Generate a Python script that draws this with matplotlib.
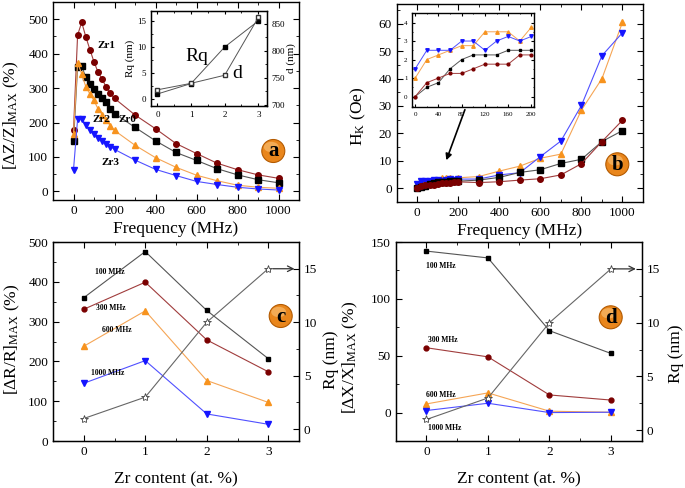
import matplotlib
matplotlib.use('Agg')
import matplotlib.pyplot as plt
from matplotlib.patches import Ellipse
from matplotlib.ticker import MultipleLocator

plt.rcParams['font.family'] = ['Liberation Serif', 'DejaVu Serif']
plt.rcParams['mathtext.fontset'] = 'custom'
plt.rcParams['mathtext.rm'] = 'Liberation Serif'
plt.rcParams['mathtext.it'] = 'Liberation Serif:italic'
plt.rcParams['mathtext.bf'] = 'Liberation Serif:bold'

# panel a: GMI ratio vs frequency
freq = [0, 20, 40, 60, 80, 100, 120, 140, 160, 180, 200, 300, 400, 500, 600, 700, 800, 900, 1000]
gmi_zr0 = [145, 362, 364, 331, 313, 296, 283, 272, 260, 239, 226, 186, 147, 113, 90, 66, 48, 34, 25]
gmi_zr1 = [179, 454, 491, 449, 412, 376, 346, 326, 302, 285, 270, 222, 182, 139, 110, 82, 63, 48, 38]
gmi_zr2 = [167, 374, 341, 304, 283, 264, 239, 223, 206, 191, 177, 134, 98, 70, 47, 31, 18, 12, 9]
gmi_zr3 = [63, 210, 211, 193, 177, 166, 155, 146, 138, 130, 122, 91, 64, 46, 29, 20, 12, 7, 4]

# panel b: anisotropy field vs frequency
hk_zr0 = [0, 0.5, 0.75, 1.5, 2, 2.25, 2.25, 2.25, 2.5, 2.5, 2.5, 2.9, 3.9, 5.7, 6.7, 9, 10.5, 17, 21]
hk_zr1 = [0, 0.75, 1, 1.25, 1.25, 1.5, 1.75, 1.75, 1.75, 2.25, 2.25, 2.0, 2.3, 2.9, 3.4, 4.8, 8.9, 17, 24.8]
hk_zr2 = [1, 2, 2.25, 2.5, 2.75, 2.75, 3.5, 3.5, 3.5, 3, 3.75, 4.2, 6.2, 8.0, 10.9, 12.4, 28.5, 40, 60.6]
hk_zr3 = [1.5, 2.5, 2.5, 2.5, 3, 3, 2.5, 3, 3.25, 3, 3.25, 3.3, 4.8, 5.6, 11.5, 17.2, 30.2, 48.4, 56.8]
n_low = 11  # points shown in the zoomed inset (0-200 MHz)

# inset a: roughness and thickness vs Zr content
zr = [0, 1, 2, 3]
rq = [1, 3, 10, 15]
thick = [728, 740, 755, 862]

# panel c: resistance ratio
dr_100 = [360, 476, 328, 207]
dr_300 = [331, 399, 254, 174]
dr_600 = [238, 327, 152, 97]
dr_1000 = [145, 202, 68, 42]

# panel d: reactance ratio
dx_100 = [142, 136, 72, 52]
dx_300 = [57, 49, 15.5, 11]
dx_600 = [7.6, 17.3, 1.2, 0.3]
dx_1000 = [1.8, 8.2, 0, 0.3]

c_blk, c_red, c_org, c_blu = 'black', '#7a0000', '#f7931e', '#1515ff'
l_blk, l_red, l_org, l_blu = '#555555', '#a03c3c', '#f5a555', '#5050ff'

W, H = 685, 488
fig = plt.figure(figsize=(W / 100, H / 100), dpi=100)


def box(x0, y0, x1, y1):
    # pixel box (top-left origin) -> figure fraction rect
    return [x0 / W, 1 - y1 / H, (x1 - x0) / W, (y1 - y0) / H]


def style(ax, size=9.5, maj=4, mino=2, right=True):
    ax.tick_params(which='both', direction='in', top=True, right=right, labelsize=size)
    ax.tick_params(which='major', length=maj, width=0.8)
    ax.tick_params(which='minor', length=mino, width=0.6)
    for s in ax.spines.values():
        s.set_linewidth(1.0)


def badge(x, y, letter):
    r = 11.5
    fig.patches.append(Ellipse((x / W, 1 - y / H), 2 * r / W, 2 * r / H, transform=fig.transFigure,
                               fc='#e9861c', ec='#b35a00', lw=0.8, zorder=5))
    fig.patches.append(Ellipse(((x - 2) / W, 1 - (y - 4) / H), 1.3 * r / W, 0.9 * r / H,
                               transform=fig.transFigure, fc='#f8bb6e', ec='none', alpha=0.7, zorder=5))
    fig.text(x / W, 1 - (y + 0.5) / H, letter, ha='center', va='center', fontsize=15,
             fontweight='bold', zorder=6)


# ---------------- panel a ----------------
ax_a = fig.add_axes(box(53, 2, 299, 200))
ax_a.plot(freq, gmi_zr1, '-o', color=l_red, mfc=c_red, mec=c_red, ms=4, lw=0.8)
ax_a.plot(freq, gmi_zr0, '-s', color=l_blk, mfc=c_blk, mec=c_blk, ms=4, lw=0.8)
ax_a.plot(freq, gmi_zr2, '-^', color=l_org, mfc=c_org, mec=c_org, ms=4.5, lw=0.8)
ax_a.plot(freq, gmi_zr3, '-v', color=l_blu, mfc=c_blu, mec=c_blu, ms=4.5, lw=0.8)
ax_a.set_xlim(-100, 1100)
ax_a.set_ylim(-25, 550)
ax_a.xaxis.set_major_locator(MultipleLocator(200))
ax_a.xaxis.set_minor_locator(MultipleLocator(100))
ax_a.yaxis.set_major_locator(MultipleLocator(100))
ax_a.yaxis.set_minor_locator(MultipleLocator(50))
style(ax_a)
ax_a.set_xlabel('Frequency (MHz)', fontsize=12.5, labelpad=3)
ax_a.set_ylabel(r'$[\Delta\mathrm{Z/Z}]_{\mathrm{MAX}}$ (%)', fontsize=12.5)
ax_a.yaxis.set_label_coords(-0.13, 0.43)
for txt, x, y in [('Zr1', 161, 423), ('Zr2', 135, 210), ('Zr0', 263, 208), ('Zr3', 180, 84)]:
    ax_a.text(x, y, txt, fontsize=8, fontweight='bold', ha='center', va='center')

ins_a = fig.add_axes(box(150.7, 11, 266.7, 106))
ins_a.plot(zr, rq, '-s', color='#555555', mfc='black', mec='black', ms=3, lw=0.7)
ins_a.set_xlim(-0.2, 3.25)
ins_a.set_ylim(-1.3, 16.9)
ins_a.xaxis.set_major_locator(MultipleLocator(1))
ins_a.xaxis.set_minor_locator(MultipleLocator(0.5))
ins_a.yaxis.set_major_locator(MultipleLocator(5))
ins_a.yaxis.set_minor_locator(MultipleLocator(2.5))
style(ins_a, size=6.5, maj=2.5, mino=1.5, right=False)
ins_a.set_ylabel('Rq (nm)', fontsize=8, labelpad=1)
ins_a.text(1.16, 8.1, 'Rq', fontsize=14, ha='center', va='center')
ins_a.text(2.37, 5.0, 'd', fontsize=14, ha='center', va='center')
ins_a2 = ins_a.twinx()
ins_a2.plot(zr, thick, '-s', color='#555555', mfc='white', mec='#333333', ms=3, lw=0.7)
ins_a2.set_ylim(698, 874)
ins_a2.yaxis.set_major_locator(MultipleLocator(50))
ins_a2.yaxis.set_minor_locator(MultipleLocator(25))
ins_a2.tick_params(which='both', direction='in', labelsize=6.5)
ins_a2.tick_params(which='major', length=2.5)
ins_a2.tick_params(which='minor', length=1.5)
ins_a2.set_ylabel('d (nm)', fontsize=8, labelpad=1)

# ---------------- panel b ----------------
ax_b = fig.add_axes(box(396.7, 4, 643, 201.7))
ax_b.plot(freq, hk_zr2, '-^', color=l_org, mfc=c_org, mec=c_org, ms=5, lw=0.8)
ax_b.plot(freq, hk_zr3, '-v', color=l_blu, mfc=c_blu, mec=c_blu, ms=5, lw=0.8)
ax_b.plot(freq, hk_zr0, '-s', color=l_blk, mfc=c_blk, mec=c_blk, ms=4, lw=0.8)
ax_b.plot(freq, hk_zr1, '-o', color=l_red, mfc=c_red, mec=c_red, ms=4, lw=0.8)
ax_b.set_xlim(-100, 1100)
ax_b.set_ylim(-5, 67.3)
ax_b.xaxis.set_major_locator(MultipleLocator(200))
ax_b.xaxis.set_minor_locator(MultipleLocator(100))
ax_b.yaxis.set_major_locator(MultipleLocator(10))
ax_b.yaxis.set_minor_locator(MultipleLocator(5))
style(ax_b)
ax_b.set_xlabel('Frequency (MHz)', fontsize=12.5, labelpad=3)
ax_b.set_ylabel(r'$\mathrm{H_K}$ (Oe)', fontsize=12.5)
ax_b.yaxis.set_label_coords(-0.117, 0.43)
ax_b.annotate('', xy=(137, 9.2), xytext=(237, 29.6),
              arrowprops=dict(arrowstyle='-|>', color='black', lw=1.2, mutation_scale=9))

ins_b = fig.add_axes(box(412.3, 13.3, 534.3, 106.7))
ins_b.plot(freq[:n_low], hk_zr2[:n_low], '-^', color=l_org, mfc=c_org, mec=c_org, ms=2.5, lw=0.7)
ins_b.plot(freq[:n_low], hk_zr3[:n_low], '-v', color=l_blu, mfc=c_blu, mec=c_blu, ms=2.5, lw=0.7)
ins_b.plot(freq[:n_low], hk_zr0[:n_low], '-s', color=l_blk, mfc=c_blk, mec=c_blk, ms=2, lw=0.7)
ins_b.plot(freq[:n_low], hk_zr1[:n_low], '-o', color=l_red, mfc=c_red, mec=c_red, ms=2, lw=0.7)
ins_b.set_xlim(-5, 205)
ins_b.set_ylim(-0.55, 4.5)
ins_b.xaxis.set_major_locator(MultipleLocator(40))
ins_b.xaxis.set_minor_locator(MultipleLocator(20))
ins_b.yaxis.set_major_locator(MultipleLocator(1))
ins_b.yaxis.set_minor_locator(MultipleLocator(0.5))
style(ins_b, size=5, maj=2, mino=1)

# ---------------- panel c ----------------
ax_c = fig.add_axes(box(53, 242, 299, 441))
ax_c.plot(zr, dr_100, '-s', color=l_blk, mfc=c_blk, mec=c_blk, ms=3.5, lw=0.8)
ax_c.plot(zr, dr_300, '-o', color=l_red, mfc=c_red, mec=c_red, ms=3.5, lw=0.8)
ax_c.plot(zr, dr_600, '-^', color=l_org, mfc=c_org, mec=c_org, ms=4, lw=0.8)
ax_c.plot(zr, dr_1000, '-v', color=l_blu, mfc=c_blu, mec=c_blu, ms=4, lw=0.8)
ax_c.set_xlim(-0.5, 3.5)
ax_c.set_ylim(0, 500)
ax_c.xaxis.set_major_locator(MultipleLocator(1))
ax_c.xaxis.set_minor_locator(MultipleLocator(0.5))
ax_c.yaxis.set_major_locator(MultipleLocator(100))
ax_c.yaxis.set_minor_locator(MultipleLocator(50))
style(ax_c, right=False)
ax_c.set_xlabel('Zr content (at. %)', fontsize=12.5, labelpad=10)
ax_c.set_ylabel(r'$[\Delta\mathrm{R/R}]_{\mathrm{MAX}}$ (%)', fontsize=12.5)
ax_c.yaxis.set_label_coords(-0.126, 0.51)
for txt, x, y in [('100 MHz', 0.43, 425), ('300 MHz', 0.44, 334), ('600 MHz', 0.54, 278), ('1000 MHz', 0.39, 170)]:
    ax_c.text(x, y, txt, fontsize=5.5, fontweight='bold', ha='center', va='center')
ax_c2 = ax_c.twinx()
ax_c2.plot(zr, rq, '-*', color='#666666', mfc='white', mec='#444444', ms=6, mew=0.6, lw=0.8)
ax_c2.set_ylim(-1.1, 17.5)
ax_c2.yaxis.set_major_locator(MultipleLocator(5))
ax_c2.yaxis.set_minor_locator(MultipleLocator(2.5))
ax_c2.tick_params(which='both', direction='in', labelsize=9.5)
ax_c2.tick_params(which='major', length=4)
ax_c2.tick_params(which='minor', length=2)
ax_c2.set_ylabel('Rq (nm)', fontsize=12.5)
ax_c2.yaxis.set_label_coords(1.098, 0.41)
ax_c2.annotate('', xy=(3.47, rq[-1]), xytext=(3.03, rq[-1]),
               arrowprops=dict(arrowstyle='->', color='#333333', lw=0.9))

# ---------------- panel d ----------------
ax_d = fig.add_axes(box(395.7, 242, 641.7, 441))
ax_d.plot(zr, dx_100, '-s', color=l_blk, mfc=c_blk, mec=c_blk, ms=3.5, lw=0.8)
ax_d.plot(zr, dx_300, '-o', color=l_red, mfc=c_red, mec=c_red, ms=3.5, lw=0.8)
ax_d.plot(zr, dx_600, '-^', color=l_org, mfc=c_org, mec=c_org, ms=4, lw=0.8)
ax_d.plot(zr, dx_1000, '-v', color=l_blu, mfc=c_blu, mec=c_blu, ms=4, lw=0.8)
ax_d.set_xlim(-0.5, 3.5)
ax_d.set_ylim(-25, 150)
ax_d.xaxis.set_major_locator(MultipleLocator(1))
ax_d.xaxis.set_minor_locator(MultipleLocator(0.5))
ax_d.yaxis.set_major_locator(MultipleLocator(50))
ax_d.yaxis.set_minor_locator(MultipleLocator(25))
style(ax_d, right=False)
ax_d.set_xlabel('Zr content (at. %)', fontsize=12.5, labelpad=10)
ax_d.set_ylabel(r'$[\Delta\mathrm{X/X}]_{\mathrm{MAX}}$ (%)', fontsize=12.5)
ax_d.yaxis.set_label_coords(-0.145, 0.42)
for txt, x, y in [('100 MHz', 0.23, 129), ('300 MHz', 0.26, 63.4), ('600 MHz', 0.23, 15.5), ('1000 MHz', 0.30, -13.4)]:
    ax_d.text(x, y, txt, fontsize=5.5, fontweight='bold', ha='center', va='center')
ax_d2 = ax_d.twinx()
ax_d2.plot(zr, rq, '-*', color='#666666', mfc='white', mec='#444444', ms=6, mew=0.6, lw=0.8)
ax_d2.set_ylim(-1, 17.5)
ax_d2.yaxis.set_major_locator(MultipleLocator(5))
ax_d2.yaxis.set_minor_locator(MultipleLocator(2.5))
ax_d2.tick_params(which='both', direction='in', labelsize=9.5)
ax_d2.tick_params(which='major', length=4)
ax_d2.tick_params(which='minor', length=2)
ax_d2.set_ylabel('Rq (nm)', fontsize=12.5)
ax_d2.yaxis.set_label_coords(1.107, 0.44)
ax_d2.annotate('', xy=(3.45, rq[-1]), xytext=(3.0, rq[-1]),
               arrowprops=dict(arrowstyle='->', color='#333333', lw=0.9))

badge(273.3, 151, 'a')
badge(617.3, 164.3, 'b')
badge(280.7, 316, 'c')
badge(610.7, 317.3, 'd')

fig.savefig('out.png', dpi=100)
